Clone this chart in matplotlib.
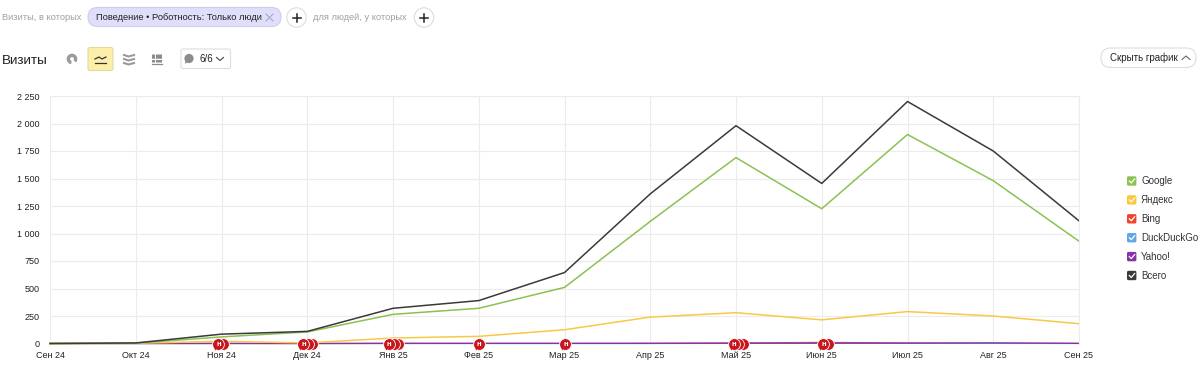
import numpy as np
from matplotlib import pyplot as plt
from matplotlib.patches import FancyBboxPatch, Circle, Polygon, Wedge
from matplotlib.lines import Line2D

plt.rcParams['font.family'] = ['Liberation Sans', 'DejaVu Sans']

# Данные графика
months = ['Сен 24', 'Окт 24', 'Ноя 24', 'Дек 24', 'Янв 25', 'Фев 25', 'Мар 25',
          'Апр 25', 'Май 25', 'Июн 25', 'Июл 25', 'Авг 25', 'Сен 25']
google = [0, 3, 60, 105, 265, 320, 510, 1110, 1690, 1225, 1900, 1480, 930]
yandex = [0, 2, 20, 5, 50, 65, 125, 240, 280, 215, 290, 250, 180]
bing = [0, 0, 1, 0, 1, 1, 1, 2, 5, 10, 5, 3, 1]
duckduckgo = [0, 0, 0, 0, 0, 0, 0, 0, 1, 1, 1, 1, 0]
yahoo = [0, 0, 0, 0, 1, 1, 1, 1, 2, 3, 3, 5, 1]
total = [0, 5, 85, 110, 320, 390, 645, 1360, 1980, 1455, 2200, 1750, 1115]
y_ticks = [0, 250, 500, 750, 1000, 1250, 1500, 1750, 2000, 2250]
y_labels = ['0', '250', '500', '750', '1 000', '1 250', '1 500', '1 750', '2 000', '2 250']

# Заметки на оси: положение по месяцам и количество значков
note_months = [1.965, 2.955, 3.955, 5.0, 6.01, 7.975, 9.02]
note_counts = [2, 3, 3, 1, 1, 3, 2]

legend_names = ['Google', 'Яндекс', 'Bing', 'DuckDuckGo', 'Yahoo!', 'Всего']
legend_colors = ['#8cc152', '#fdc83c', '#f0452c', '#62a5e8', '#8533a8', '#3a3a3a']

W, H = 1200, 375
fig = plt.figure(figsize=(W / 100, H / 100), dpi=100, facecolor='white')

# Оверлей в пикселях для элементов интерфейса
ui = fig.add_axes([0, 0, 1, 1], zorder=3)
ui.set_xlim(0, W)
ui.set_ylim(H, 0)
ui.axis('off')

# Сам график
ax = fig.add_axes([50 / W, (H - 343.5) / H, 1029 / W, 247.5 / H], zorder=2)
ax.patch.set_alpha(0)
x = np.arange(len(months))
ax.set_xlim(0, len(months) - 1)
ax.set_ylim(0, 2250)
ax.set_xticks(x)
ax.set_xticklabels(months, fontsize=6.5, color='#222222')
ax.set_yticks(y_ticks)
ax.set_yticklabels(y_labels, fontsize=6.5, color='#222222')
ax.tick_params(axis='y', length=0, pad=7.5)
ax.tick_params(axis='x', length=0, pad=5.2)
ax.grid(True, color='#ececec', lw=0.8)
ax.set_axisbelow(True)
for name, spine in ax.spines.items():
    spine.set_visible(name in ('top', 'right'))
    spine.set_color('#ececec')
    spine.set_linewidth(0.8)

ax.plot(x, bing, color=legend_colors[2], lw=0.9, clip_on=False)
ax.plot(x, duckduckgo, color=legend_colors[3], lw=0.9, clip_on=False)
ax.plot(x, yahoo, color=legend_colors[4], lw=0.9, clip_on=False)
ax.plot(x, yandex, color='#f9c846', lw=1.1, clip_on=False)
ax.plot(x, google, color=legend_colors[0], lw=1.1, clip_on=False)
ax.plot(x, total, color='#3a3a3a', lw=1.1, clip_on=False)

# Значки заметок
for m, c in zip(note_months, note_counts):
    for k in range(c - 1, -1, -1):
        off = k * 4.4 / (1029 / 12)
        ax.scatter(m + off, -9, s=72, color='#c8161d', edgecolors='white', linewidths=0.6,
                   zorder=5 + (c - k), clip_on=False)
    ax.scatter(m - 0.035, -44, s=9, marker='v', color='#c8161d', linewidths=0, zorder=9, clip_on=False)
    ax.text(m, -12, 'н', color='white', fontsize=5.5, fontweight='bold', ha='center', va='center',
            zorder=12, clip_on=False)

# Верхняя строка фильтров
ui.text(2, 17.5, 'Визиты, в которых', fontsize=6.7, color='#a0a0a0', va='center')
ui.add_patch(FancyBboxPatch((88, 7.5), 193, 19, boxstyle='round,pad=0,rounding_size=9.5',
                            fc='#dfdffb', ec='#cdcdf0', lw=0.8))
ui.text(96, 17.5, 'Поведение • Роботность: Только люди', fontsize=6.75, color='#222222', va='center')
ui.plot([266, 273], [14, 21], color='#a2a2c0', lw=0.7)
ui.plot([266, 273], [21, 14], color='#a2a2c0', lw=0.7)
for cx in (296.5, 424):
    ui.add_patch(Circle((cx, 17.5), 9.7, fc='white', ec='#dddddd', lw=0.8))
    ui.plot([cx - 4, cx + 4], [17.5, 17.5], color='#222222', lw=1.1)
    ui.plot([cx, cx], [13.5, 21.5], color='#222222', lw=1.1)
ui.text(313, 17.5, 'для людей, у которых', fontsize=6.7, color='#a0a0a0', va='center')

# Вторая строка
ui.text(2, 60.5, 'Визиты', fontsize=9.7, color='#222222', va='center')
ui.add_patch(Wedge((72, 59), 5.3, 100, 40, width=3.4, fc='#9a9a9a', ec='none'))
ui.add_patch(FancyBboxPatch((88, 47.5), 25, 23, boxstyle='round,pad=0,rounding_size=2',
                            fc='#fdeeaa', ec='#e6d9a0', lw=0.8))
ui.plot([95, 99, 102, 106], [59, 57, 59, 57], color='#333333', lw=0.9)
ui.plot([95, 106], [63, 63], color='#333333', lw=0.9)
for dy in (55, 59, 63):
    ui.plot([124, 128.5, 134], [dy, dy + 1.5, dy], color='#9a9a9a', lw=1.5)
for bx in (153, 156.5, 160):
    ui.plot([bx, bx], [54, 62], color='#8c8c8c', lw=2.2, ls=(0, (1.4, 0.4)))
ui.plot([152, 162], [64, 64], color='#8c8c8c', lw=0.9)
ui.add_patch(FancyBboxPatch((181, 49), 49.5, 19.5, boxstyle='round,pad=0,rounding_size=2',
                            fc='white', ec='#dddddd', lw=0.8))
ui.add_patch(Circle((189, 58.5), 4.6, fc='#8c8c8c', ec='none'))
ui.add_patch(Polygon([[185.5, 61], [187.5, 62], [185, 64]], fc='#8c8c8c', ec='none'))
ui.text(199, 59, '6/6', fontsize=7, color='#222222', va='center')
ui.plot([216.5, 220, 223.5], [57.5, 60.5, 57.5], color='#444444', lw=0.8)

# Кнопка справа
ui.add_patch(FancyBboxPatch((1101, 48), 95, 19.5, boxstyle='round,pad=0,rounding_size=9.7',
                            fc='white', ec='#dddddd', lw=0.8))
ui.text(1110, 58, 'Скрыть график', fontsize=7, color='#222222', va='center')
ui.plot([1182, 1186, 1190], [59.5, 56, 59.5], color='#666666', lw=0.8)

# Легенда
for i, (name, color) in enumerate(zip(legend_names, legend_colors)):
    ly = 181 + i * 18.9
    ui.add_patch(FancyBboxPatch((1127, ly - 4.7), 9.4, 9.4, boxstyle='round,pad=0,rounding_size=1.5',
                                fc=color, ec='none'))
    ui.add_line(Line2D([1129.3, 1131.3, 1134.6], [ly, ly + 2, ly - 2], color='white', lw=0.9))
    ui.text(1141, ly + 0.3, name, fontsize=7, color='#333333', va='center')

fig.savefig('out.png', dpi=100)
